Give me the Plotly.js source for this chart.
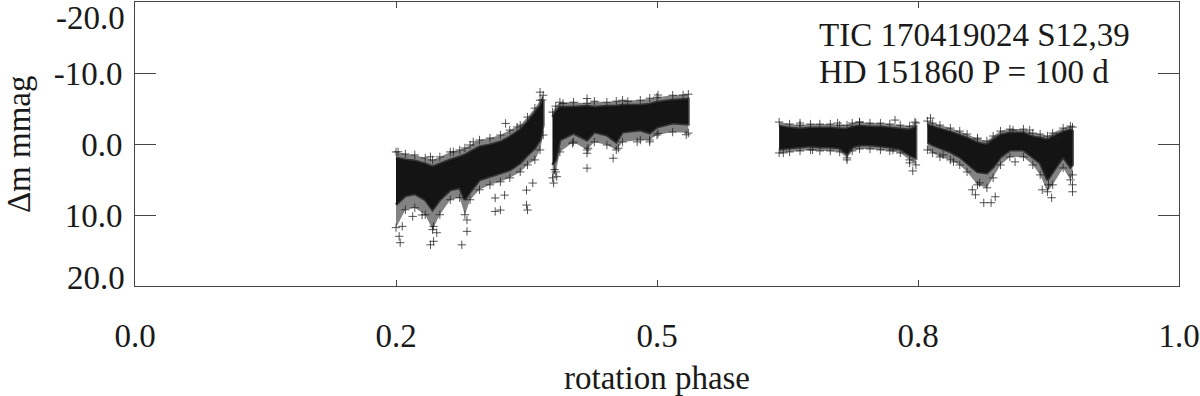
<!DOCTYPE html>
<html>
<head>
<meta charset="utf-8">
<script src="https://cdn.plot.ly/plotly-3.0.1.min.js"></script>
<style>
  html, body { margin: 0; padding: 0; background: #fff; }
  #lc { width: 1200px; height: 396px; }
</style>
</head>
<body>
<div id="lc"></div>
<script>
// Light curve of TIC 170419024, folded on P = 100 d.
// The dense cloud of points is kept per observing chunk as a core band
// (upper / lower edge in mmag), an outer halo where points thin out,
// and the stray points, all read off the figure.

const seg1Phase   = [0.250, 0.259, 0.268, 0.278, 0.285, 0.292, 0.302, 0.311, 0.316, 0.321, 0.330, 0.340, 0.350, 0.359, 0.369, 0.376, 0.383, 0.388, 0.391];
const seg1Top     = [1.96, 2.24, 2.38, 2.81, 3.23, 2.81, 2.24, 1.82, 1.54, 1.12, 0.42, 0.14, -0.28, -0.98, -1.96, -3.09, -4.35, -5.33, -6.17];
const seg1Bot     = [8.56, 7.29, 7.01, 7.85, 9.26, 7.85, 6.45, 6.17, 7.85, 6.73, 5.05, 4.63, 4.07, 3.65, 2.66, 1.54, 0.56, -0.56, -2.66];
const seg1HaloTop = [1.12, 1.40, 1.54, 1.96, 2.24, 1.82, 1.12, 0.84, 0.56, 0.14, -0.56, -0.84, -1.26, -1.96, -2.66, -3.79, -5.05, -6.17, -6.87];
const seg1HaloBot = [11.78, 9.26, 8.98, 9.96, 12.06, 9.96, 7.85, 7.57, 9.96, 7.85, 6.45, 5.75, 5.33, 4.77, 3.93, 2.95, 2.24, 0.84, -1.26];

const seg2Phase   = [0.400, 0.403, 0.407, 0.420, 0.433, 0.440, 0.452, 0.461, 0.467, 0.484, 0.493, 0.500, 0.515, 0.530];
const seg2Top     = [-3.79, -4.49, -5.19, -5.19, -5.33, -5.19, -5.33, -5.33, -5.47, -5.47, -5.61, -5.89, -6.17, -6.31];
const seg2Bot     = [2.95, 2.24, -0.56, -1.54, -0.56, -1.68, -1.26, -0.28, -1.68, -1.96, -1.54, -2.38, -2.95, -2.81];
const seg2HaloTop = [-4.49, -5.33, -5.89, -5.89, -5.75, -6.03, -5.89, -6.03, -6.17, -6.17, -6.45, -6.59, -6.87, -7.01];
const seg2HaloBot = [4.77, 3.93, 1.12, -0.28, 0.84, -0.28, 0.14, 0.84, -0.28, -0.56, -0.56, -1.26, -1.68, -1.54];

const seg3Phase   = [0.617, 0.627, 0.637, 0.647, 0.656, 0.666, 0.675, 0.682, 0.687, 0.694, 0.704, 0.714, 0.723, 0.733, 0.742, 0.748];
const seg3Top     = [-2.52, -2.24, -2.10, -2.24, -2.24, -2.24, -2.10, -2.10, -2.38, -2.52, -2.38, -2.38, -2.24, -2.10, -1.96, -2.38];
const seg3Bot     = [0.70, 0.56, 0.42, 0.28, 0.42, 0.42, 0.56, 1.40, 0.42, 0.14, 0.14, 0.28, 0.42, 0.70, 1.54, 1.96];
const seg3HaloTop = [-3.09, -2.81, -2.66, -2.81, -2.81, -2.81, -2.66, -2.66, -2.95, -3.09, -2.95, -2.95, -2.81, -2.66, -2.52, -2.95];
const seg3HaloBot = [1.26, 1.12, 0.98, 0.84, 0.98, 0.98, 1.12, 1.96, 0.98, 0.70, 0.70, 0.84, 0.98, 1.26, 2.24, 2.95];

const seg4Phase   = [0.759, 0.764, 0.771, 0.781, 0.790, 0.797, 0.807, 0.816, 0.822, 0.829, 0.838, 0.851, 0.860, 0.867, 0.874, 0.879, 0.889, 0.896, 0.898];
const seg4Top     = [-2.66, -2.38, -2.10, -1.68, -1.26, -0.84, -0.14, 0.14, -0.56, -1.26, -1.54, -1.54, -0.98, -0.84, -0.56, -0.98, -1.68, -1.96, -1.82];
const seg4Bot     = [-0.28, 0.14, 0.56, 1.12, 1.82, 2.66, 3.93, 4.07, 3.23, 1.82, 0.84, 0.84, 1.82, 2.66, 5.05, 3.93, 1.82, 3.23, 2.95];
const seg4HaloTop = [-3.23, -2.95, -2.66, -2.24, -1.82, -1.40, -0.70, -0.42, -1.12, -1.82, -2.10, -2.10, -1.54, -1.40, -1.12, -1.54, -2.24, -2.52, -2.38];
const seg4HaloBot = [0.84, 1.26, 1.82, 2.24, 2.95, 3.93, 5.75, 6.17, 4.77, 2.95, 1.82, 1.82, 2.95, 4.35, 6.73, 5.75, 3.37, 5.05, 4.35];

// stray points outside the dense band
const strayPhase = [
  0.252, 0.254, 0.253, 0.256, 0.266, 0.275, 0.283, 0.283, 0.286, 0.286, 0.289, 0.313, 0.318, 0.318, 0.305, 0.324,
  0.345, 0.345, 0.350, 0.354, 0.355, 0.375, 0.376, 0.375, 0.381, 0.388, 0.390, 0.366,
  0.401, 0.404, 0.402, 0.433, 0.433, 0.434, 0.458, 0.463, 0.481, 0.493, 0.501, 0.528, 0.433, 0.472, 0.501, 0.525, 0.410, 0.419,
  0.621, 0.637, 0.673, 0.682, 0.694, 0.728, 0.747, 0.742, 0.745, 0.726, 0.649,
  0.762, 0.774, 0.784, 0.802, 0.805, 0.813, 0.820, 0.824, 0.809, 0.841, 0.843, 0.857, 0.869, 0.878, 0.875, 0.898, 0.898, 0.883, 0.807
];
const strayMag = [
  1.1, 13.9, 13.0, 11.6, 10.2, 10.0, 1.8, 14.2, 13.7, 11.6, 12.5, 14.2, 12.3, 10.7, 1.1, -0.3,
  7.6, 9.5, 9.3, 7.2, -2.9, 8.6, 9.3, 6.5, 5.5, -7.3, -6.2, -2.4,
  5.5, 4.6, 3.6, 3.4, 1.3, 0.6, 2.0, 0.6, -0.3, -0.3, -1.5, -1.3, -6.4, -6.0, -6.9, -6.9, -5.7, -0.1,
  1.26, -2.95, -2.95, 2.24, -3.09, -3.37, -3.09, 2.66, 3.79, 0.84, 0.84,
  -3.65, 1.54, 2.52, 6.45, 7.15, 8.27, 8.27, 7.43, 5.47, -1.96, 2.52, -1.96, 6.45, 7.57, 5.75, 6.73, 5.75, -0.98, -0.84
];

const xTickVals = [0, 0.25, 0.5, 0.75, 1.0];
const xTickText = ['0.0', '0.2', '0.5', '0.8', '1.0'];
const yTickVals = [-10, 0, 10];
const yTickText = ['-10.0', '0.0', '10.0'];

const FONT = 'Liberation Serif, Times New Roman, serif';
const INK = '#1a1a1a';
const CROSS = 'rgba(30,30,30,0.75)';

function bandTrace(phase, top, bot, fillcolor, line) {
    // closed outline: along the upper edge, back along the lower edge
    return {
        x: phase.concat(phase.slice().reverse()),
        y: top.concat(bot.slice().reverse()),
        type: 'scatter', mode: 'lines',
        fill: 'toself', fillcolor: fillcolor,
        line: line,
        hoverinfo: 'skip'
    };
}

function crossTrace(x, y) {
    return {
        x: x, y: y,
        type: 'scatter', mode: 'markers',
        marker: { symbol: 'cross-thin-open', size: 6, color: CROSS, line: { color: CROSS, width: 1 } },
        hoverinfo: 'skip'
    };
}

const segs = [
    [seg1Phase, seg1Top, seg1Bot, seg1HaloTop, seg1HaloBot],
    [seg2Phase, seg2Top, seg2Bot, seg2HaloTop, seg2HaloBot],
    [seg3Phase, seg3Top, seg3Bot, seg3HaloTop, seg3HaloBot],
    [seg4Phase, seg4Top, seg4Bot, seg4HaloTop, seg4HaloBot]
];

const traces = [];
segs.forEach(function (s) {
    traces.push(bandTrace(s[0], s[3], s[4], 'rgba(30,30,30,0.55)', { width: 0, color: 'rgba(0,0,0,0)' }));
});
segs.forEach(function (s) {
    traces.push(bandTrace(s[0], s[1], s[2], '#141414', { color: 'rgba(20,20,20,0.7)', width: 3 }));
});
segs.forEach(function (s) {
    traces.push(crossTrace(s[0].concat(s[0]), s[3].concat(s[4])));
});
traces.push(crossTrace(strayPhase, strayMag));

const layout = {
    width: 1200, height: 396,
    margin: { l: 135, r: 21, t: 2, b: 110 },
    paper_bgcolor: '#fff', plot_bgcolor: '#fff',
    showlegend: false,
    font: { family: FONT, size: 33, color: INK },
    xaxis: {
        range: [0, 1],
        tickvals: xTickVals, ticktext: xTickText,
        ticks: 'inside', ticklen: 6, tickwidth: 1, tickcolor: '#444',
        showline: true, linecolor: '#444', linewidth: 1, mirror: 'ticks',
        showgrid: false, zeroline: false,
        ticklabelstandoff: 20,
        title: { text: 'rotation phase', standoff: 14, font: { family: FONT, size: 33, color: INK } }
    },
    yaxis: {
        range: [20, -20],
        tickvals: yTickVals, ticktext: yTickText,
        ticks: 'inside', ticklen: 21, tickwidth: 1, tickcolor: '#444',
        showline: true, linecolor: '#444', linewidth: 1, mirror: 'ticks',
        showgrid: false, zeroline: false,
        ticklabelstandoff: 5
    },
    annotations: [
        // y title placed by hand so it sits near the page edge
        { xref: 'paper', yref: 'paper', x: -0.111, y: 0.5, xanchor: 'center', yanchor: 'middle',
          textangle: -90, text: 'Δm mmag', showarrow: false, font: { family: FONT, size: 33, color: INK } },
        // end labels sit inside the frame in the original, not on the tick
        { xref: 'paper', yref: 'paper', x: -0.008, y: 0.944, xanchor: 'right', yanchor: 'middle',
          text: '-20.0', showarrow: false, font: { family: FONT, size: 33, color: INK } },
        { xref: 'paper', yref: 'paper', x: -0.008, y: 0.028, xanchor: 'right', yanchor: 'middle',
          text: '20.0', showarrow: false, font: { family: FONT, size: 33, color: INK } },
        { xref: 'paper', yref: 'paper', x: 0.653, y: 0.884, xanchor: 'left', yanchor: 'middle',
          text: 'TIC 170419024 S12,39', showarrow: false, font: { family: FONT, size: 33, color: INK } },
        { xref: 'paper', yref: 'paper', x: 0.653, y: 0.754, xanchor: 'left', yanchor: 'middle',
          text: 'HD 151860 P = 100 d', showarrow: false, font: { family: FONT, size: 33, color: INK } }
    ]
};

Plotly.newPlot('lc', traces, layout, { displayModeBar: false, staticPlot: true });
</script>
</body>
</html>
